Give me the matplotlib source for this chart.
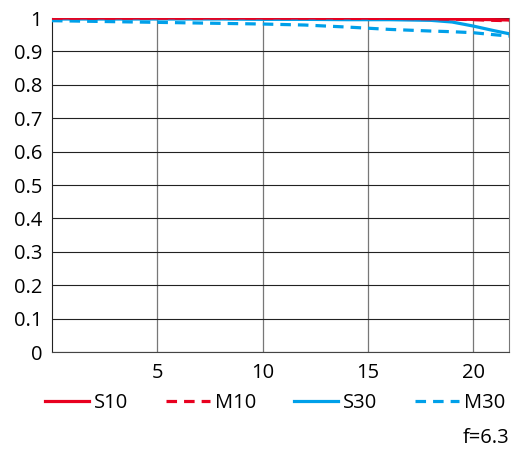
import matplotlib.pyplot as plt
from matplotlib.ticker import FuncFormatter

plt.rcParams["font.family"] = ["Open Sans", "DejaVu Sans"]
plt.rcParams["font.size"] = 14.5

# image height position (mm)
x = [0, 2, 4, 6, 8, 10, 12, 14, 16, 18, 19, 20, 21, 21.7]
s10 = [1.0, 1.0, 1.0, 1.0, 1.0, 1.0, 1.0, 1.0, 0.999, 0.998, 0.997, 0.996, 0.995, 0.994]
m10 = [1.0, 1.0, 1.0, 1.0, 1.0, 1.0, 1.0, 0.999, 0.999, 0.998, 0.997, 0.995, 0.993, 0.992]
s30 = [0.997, 0.997, 0.997, 0.997, 0.997, 0.996, 0.996, 0.995, 0.995, 0.993, 0.988, 0.976, 0.962, 0.953]
m30 = [0.992, 0.990, 0.988, 0.986, 0.984, 0.982, 0.979, 0.973, 0.966, 0.961, 0.959, 0.956, 0.950, 0.946]

red = "#e8001f"
blue = "#00a0e9"

fig = plt.figure(figsize=(5.32, 4.62), dpi=100)
ax = fig.add_axes([0.0977, 0.238, 0.859, 0.723])

ax.plot(x, s30, color=blue, lw=2.3, label="S30", zorder=3)
ax.plot(x, m30, color=blue, lw=2.3, ls=(0, (3.3, 2.2)), label="M30", zorder=3)
ax.plot(x, s10, color=red, lw=2.3, label="S10", zorder=4)
ax.plot(x, m10, color=red, lw=2.3, ls=(0, (3.3, 2.2)), label="M10", zorder=4)

ax.set_xlim(0, 21.7)
ax.set_ylim(0, 1)
ax.set_xticks([5, 10, 15, 20])
ax.set_yticks([i / 10 for i in range(11)])
ax.yaxis.set_major_formatter(FuncFormatter(lambda v, p: "%g" % round(v, 1)))
ax.tick_params(length=0)
ax.tick_params(axis="x", pad=8)
ax.tick_params(axis="y", pad=7)

ax.grid(axis="y", color="#222222", lw=0.8)
ax.grid(axis="x", color="#777777", lw=0.9)
ax.spines["top"].set_visible(False)
ax.spines["right"].set_color("#777777")
ax.spines["left"].set_color("#222222")
ax.spines["bottom"].set_color("#444444")

h, l = ax.get_legend_handles_labels()
order = [2, 3, 0, 1]
fig.legend([h[i] for i in order], [l[i] for i in order], loc="center",
           bbox_to_anchor=(0.517, 0.128), ncol=4, frameon=False,
           handlelength=2.2, handletextpad=0.25, columnspacing=1.85, fontsize=14.5)

fig.text(0.958, 0.053, "f=6.3", ha="right", va="center", fontsize=14.5)

plt.savefig("out.png", dpi=100)
